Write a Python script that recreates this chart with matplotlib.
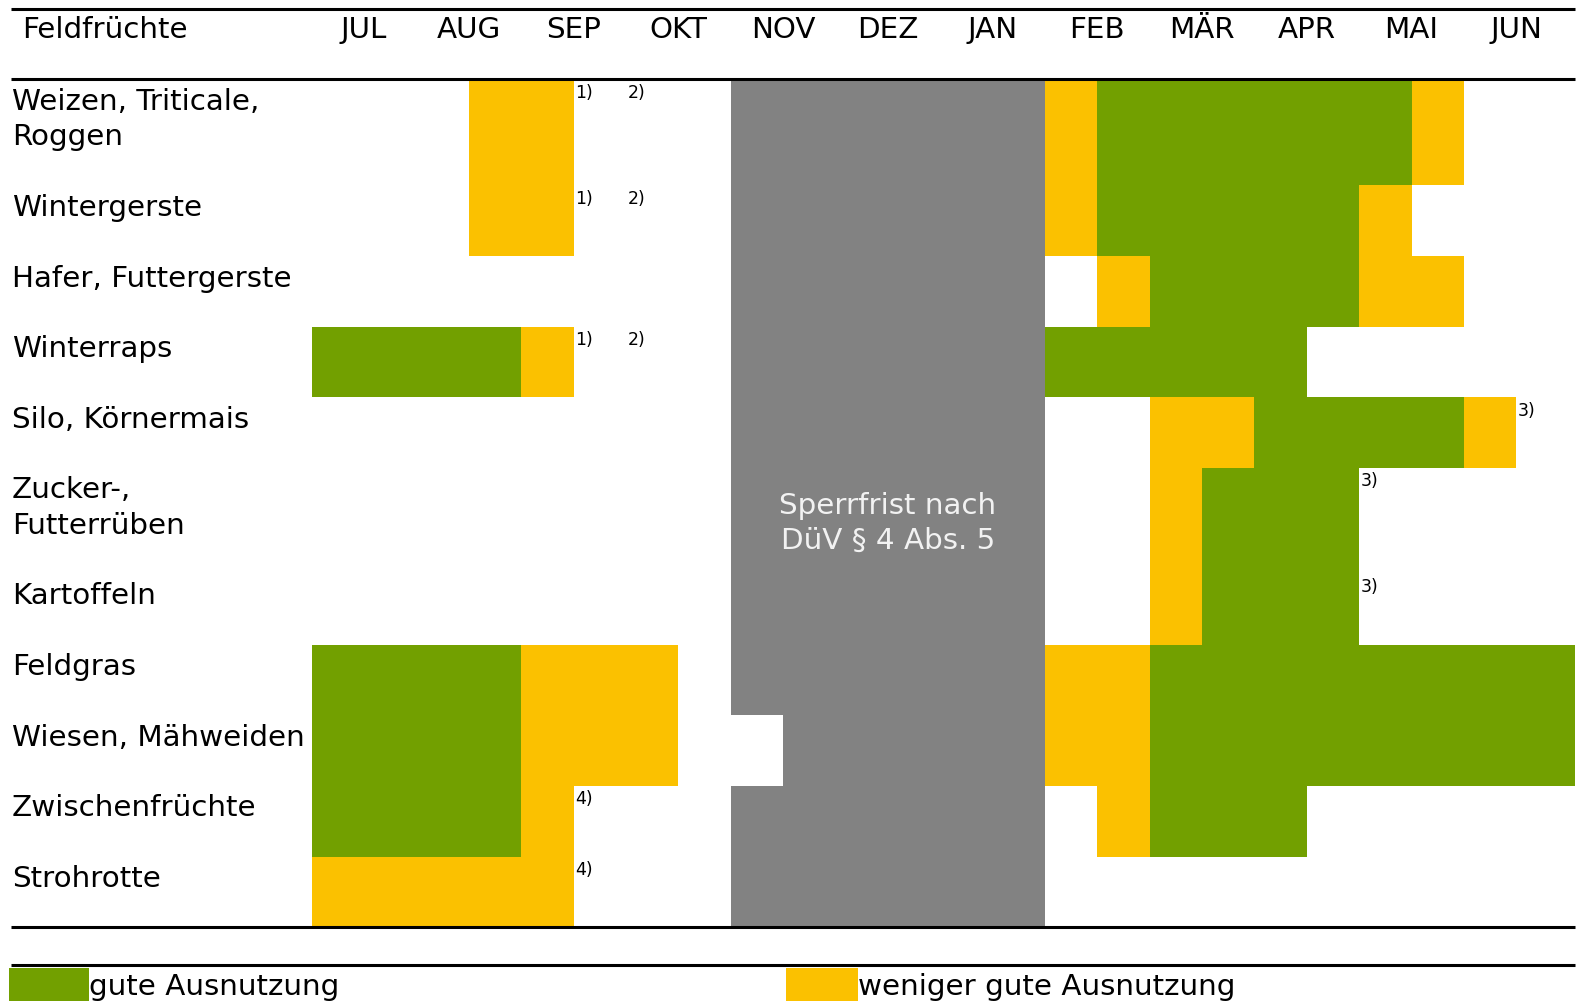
import matplotlib
matplotlib.use("Agg")
import matplotlib.pyplot as plt
from matplotlib.patches import Rectangle

# months across the top, time axis in half-month steps starting 1 July
months = ["JUL", "AUG", "SEP", "OKT", "NOV", "DEZ",
          "JAN", "FEB", "MÄR", "APR", "MAI", "JUN"]

crops = ["Weizen, Triticale,\nRoggen", "Wintergerste", "Hafer, Futtergerste",
         "Winterraps", "Silo, Körnermais", "Zucker-,\nFutterrüben",
         "Kartoffeln", "Feldgras", "Wiesen, Mähweiden", "Zwischenfrüchte",
         "Strohrotte"]
row_height = [1.5, 1, 1, 1, 1, 1.5, 1, 1, 1, 1, 1]

# (start, end) in half months
good = [
    [(15, 21)],
    [(15, 20)],
    [(16, 20)],
    [(0, 4), (14, 19)],
    [(18, 22)],
    [(17, 20)],
    [(17, 20)],
    [(0, 4), (16, 24)],
    [(0, 4), (16, 24)],
    [(0, 4), (16, 19)],
    [],
]
less_good = [
    [(3, 5), (14, 15), (21, 22)],
    [(3, 5), (14, 15), (20, 21)],
    [(15, 16), (20, 22)],
    [(4, 5)],
    [(16, 18), (22, 23)],
    [(16, 17)],
    [(16, 17)],
    [(4, 7), (14, 16)],
    [(4, 7), (14, 16)],
    [(4, 5), (15, 16)],
    [(0, 5)],
]
sperrfrist = [(8, 14)] * 8 + [(9, 14)] + [(8, 14)] * 2

# (row, half month, label)
footnotes = [(0, 5, "1)"), (0, 6, "2)"), (1, 5, "1)"), (1, 6, "2)"),
             (3, 5, "1)"), (3, 6, "2)"), (4, 23, "3)"), (5, 20, "3)"),
             (6, 20, "3)"), (9, 5, "4)"), (10, 5, "4)")]

GREEN = "#72a000"
YELLOW = "#fbc100"
GREY = "#828282"

W, H = 1577, 1001
X0, DX = 311.8, 52.37   # pixel of JUL start, pixels per half month
Y0, DY = 79.5, 70.65    # pixel of first row top, pixels per row unit


def px_x(p):
    return (p - X0) / DX


def px_y(p):
    return (p - Y0) / DY


fig = plt.figure(figsize=(W / 100, H / 100), dpi=100)
ax = fig.add_axes([0, 0, 1, 1])
ax.set_xlim(px_x(0), px_x(W))
ax.set_ylim(px_y(H), px_y(0))
ax.axis("off")

# the last JUN column runs on to the right edge of the table
table_end = px_x(1575)

fs = 21.2
tops = [sum(row_height[:i]) for i in range(len(crops))]

for i, crop in enumerate(crops):
    top, h = tops[i], row_height[i]
    for color, spans in ((GREY, [sperrfrist[i]]), (GREEN, good[i]),
                         (YELLOW, less_good[i])):
        if spans:
            bars = [(s, (table_end if e == 24 else e) - s) for s, e in spans]
            ax.broken_barh(bars, (top, h), facecolor=color, edgecolor="none")
    for k, line in enumerate(crop.split("\n")):
        ax.text(px_x(12), top + 0.43 + k * 0.5, line, fontsize=fs,
                va="baseline", ha="left")

for row, x, lab in footnotes:
    ax.text(x + 0.03, tops[row] + 0.06, lab, fontsize=12.5, va="top",
            ha="left")

# header
ax.text(px_x(22), px_y(38.5), "Feldfrüchte", fontsize=fs, va="baseline")
for m, name in enumerate(months):
    ax.text(2 * m + 1, px_y(38.5), name, fontsize=fs, va="baseline",
            ha="center")

ax.text(11, px_y(514), "Sperrfrist nach", fontsize=fs, color="#f2f2f2",
        va="baseline", ha="center")
ax.text(11, px_y(549), "DüV § 4 Abs. 5", fontsize=fs, color="#f2f2f2",
        va="baseline", ha="center")

for yp in (9, 79.5, 927.5, 965.5):
    ax.plot([px_x(11), px_x(1575)], [px_y(yp), px_y(yp)], color="black",
            lw=2.2, solid_capstyle="butt")

# legend
ax.add_patch(Rectangle((px_x(9), px_y(968)), 80 / DX, 60 / DY,
                       facecolor=GREEN, edgecolor="none"))
ax.text(px_x(89), px_y(995), "gute Ausnutzung", fontsize=fs, va="baseline")
ax.add_patch(Rectangle((px_x(786), px_y(968)), 72 / DX, 60 / DY,
                       facecolor=YELLOW, edgecolor="none"))
ax.text(px_x(858), px_y(995), "weniger gute Ausnutzung", fontsize=fs,
        va="baseline")

fig.savefig("out.png", dpi=100)
